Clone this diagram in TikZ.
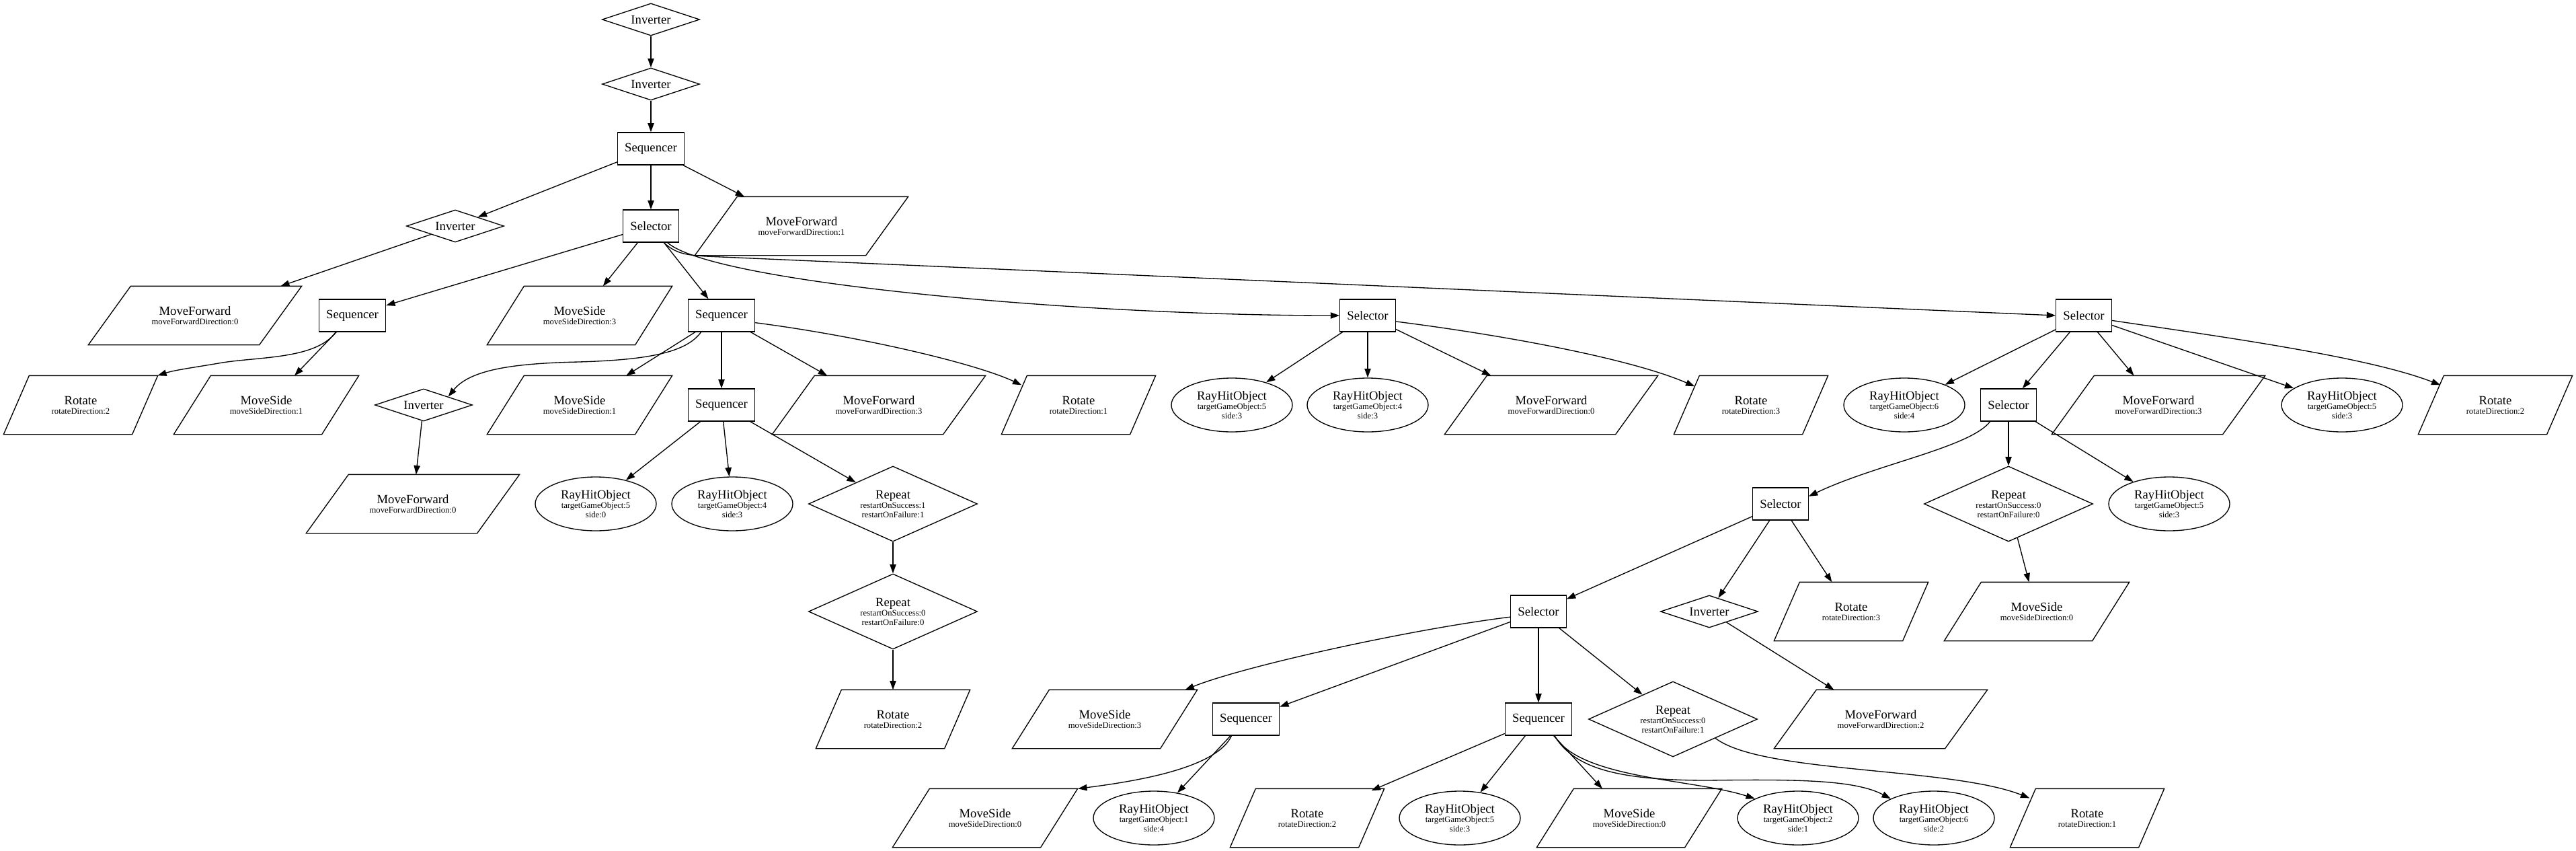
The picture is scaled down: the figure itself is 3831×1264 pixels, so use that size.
\documentclass[tikz,border=0pt]{standalone}
\usepackage{fontspec}
\setmainfont{Liberation Serif}
\usetikzlibrary{shapes.geometric,arrows.meta}
\newcommand\twol[2]{#1\\{\fontsize{9.5}{10.5}\selectfont #2}}
\newcommand\threel[3]{#1\\{\fontsize{9.5}{10.5}\selectfont #2}\\{\fontsize{9.5}{10.5}\selectfont #3}}
\begin{document}
\begin{tikzpicture}[x=0.75pt,y=-0.75pt,
  base/.style={line width=1pt, font=\fontsize{14}{10.5}\selectfont, align=center, inner sep=0pt},
  boxnode/.style={base, draw, rectangle, minimum height=36pt, inner xsep=8pt},
  invnode/.style={base, draw, diamond, aspect=3, minimum width=108.75pt, minimum height=36pt},
  repnode/.style={base, draw, diamond, aspect=2.2, minimum width=188.25pt, minimum height=84pt},
  raynode/.style={base, draw, ellipse, minimum width=135pt, minimum height=60pt},
  paranode/.style={base, rectangle, draw=none, minimum height=64.5pt},
  mfnode/.style={paranode, minimum width=189.75pt},
  msnode/.style={paranode, minimum width=164.25pt},
  rotnode/.style={paranode, minimum width=142.5pt},
  pline/.style={line width=1pt, line join=miter},
  edge/.style={-{Triangle[length=10pt,width=7pt]}, line width=1pt}]
\useasboundingbox (0,0) rectangle (3831,1264);

% ---- nodes ----
\node[invnode] (i1) at (968,29) {Inverter};
\node[invnode] (i2) at (968,125) {Inverter};
\node[boxnode] (s1) at (968,221) {Sequencer};
\node[invnode] (iL) at (677,336) {Inverter};
\node[boxnode] (sel1) at (968,336) {Selector};
\node[mfnode] (mf1) at (1192,336) {\twol{MoveForward}{moveForwardDirection:1}};

\node[mfnode] (mf0) at (290,469) {\twol{MoveForward}{moveForwardDirection:0}};
\node[boxnode] (seqA) at (524,469) {Sequencer};
\node[msnode] (ms3) at (862,469) {\twol{MoveSide}{moveSideDirection:3}};
\node[boxnode] (seqB) at (1073,469) {Sequencer};
\node[boxnode] (selC) at (2034,469) {Selector};
\node[boxnode] (selD) at (3099,469) {Selector};

\node[rotnode] (rot2) at (120,602) {\twol{Rotate}{rotateDirection:2}};
\node[msnode] (ms1a) at (396,602) {\twol{MoveSide}{moveSideDirection:1}};
\node[invnode] (invB) at (630,602) {Inverter};
\node[msnode] (ms1b) at (862,602) {\twol{MoveSide}{moveSideDirection:1}};
\node[boxnode] (seqB2) at (1073,602) {Sequencer};
\node[mfnode] (mf3) at (1307,602) {\twol{MoveForward}{moveForwardDirection:3}};
\node[rotnode] (rot1) at (1604,602) {\twol{Rotate}{rotateDirection:1}};
\node[raynode] (rh53a) at (1832,602) {\threel{RayHitObject}{targetGameObject:5}{side:3}};
\node[raynode] (rh43a) at (2034,602) {\threel{RayHitObject}{targetGameObject:4}{side:3}};
\node[mfnode] (mf0c) at (2307,602) {\twol{MoveForward}{moveForwardDirection:0}};
\node[rotnode] (rot3) at (2604,602) {\twol{Rotate}{rotateDirection:3}};
\node[raynode] (rh64) at (2832,602) {\threel{RayHitObject}{targetGameObject:6}{side:4}};
\node[boxnode] (selE) at (2987,602) {Selector};
\node[mfnode] (mf3b) at (3210,602) {\twol{MoveForward}{moveForwardDirection:3}};
\node[raynode] (rh53b) at (3483,602) {\threel{RayHitObject}{targetGameObject:5}{side:3}};
\node[rotnode] (rot2c) at (3711,602) {\twol{Rotate}{rotateDirection:2}};

\node[mfnode] (mf0b) at (614,749) {\twol{MoveForward}{moveForwardDirection:0}};
\node[raynode] (rh50) at (886,749) {\threel{RayHitObject}{targetGameObject:5}{side:0}};
\node[raynode] (rh43) at (1089,749) {\threel{RayHitObject}{targetGameObject:4}{side:3}};
\node[repnode] (rep11) at (1328,749) {\threel{Repeat}{restartOnSuccess:1}{restartOnFailure:1}};
\node[boxnode] (selF) at (2648,749) {Selector};
\node[repnode] (rep00b) at (2987,749) {\threel{Repeat}{restartOnSuccess:0}{restartOnFailure:0}};
\node[raynode] (rh53c) at (3226,749) {\threel{RayHitObject}{targetGameObject:5}{side:3}};

\node[repnode] (rep00) at (1328,909) {\threel{Repeat}{restartOnSuccess:0}{restartOnFailure:0}};
\node[boxnode] (selG) at (2288,909) {Selector};
\node[invnode] (invF) at (2542,909) {Inverter};
\node[rotnode] (rot3b) at (2753,909) {\twol{Rotate}{rotateDirection:3}};
\node[msnode] (ms0) at (3029,909) {\twol{MoveSide}{moveSideDirection:0}};

\node[rotnode] (rot2b) at (1328,1069) {\twol{Rotate}{rotateDirection:2}};
\node[msnode] (ms3b) at (1643,1069) {\twol{MoveSide}{moveSideDirection:3}};
\node[boxnode] (seqG1) at (1853,1069) {Sequencer};
\node[boxnode] (seqG2) at (2288,1069) {Sequencer};
\node[repnode] (rep01) at (2488,1069) {\threel{Repeat}{restartOnSuccess:0}{restartOnFailure:1}};
\node[mfnode] (mf2) at (2797,1069) {\twol{MoveForward}{moveForwardDirection:2}};

\node[msnode] (ms0b) at (1465,1216) {\twol{MoveSide}{moveSideDirection:0}};
\node[raynode] (rh14) at (1716,1216) {\threel{RayHitObject}{targetGameObject:1}{side:4}};
\node[rotnode] (rot2d) at (1944,1216) {\twol{Rotate}{rotateDirection:2}};
\node[raynode] (rh53d) at (2171,1216) {\threel{RayHitObject}{targetGameObject:5}{side:3}};
\node[msnode] (ms0c) at (2423,1216) {\twol{MoveSide}{moveSideDirection:0}};
\node[raynode] (rh21) at (2674,1216) {\threel{RayHitObject}{targetGameObject:2}{side:1}};
\node[raynode] (rh62) at (2876,1216) {\threel{RayHitObject}{targetGameObject:6}{side:2}};
\node[rotnode] (rot1b) at (3104,1216) {\twol{Rotate}{rotateDirection:1}};

% ---- parallelogram outlines ----
\foreach \n in {mf1,mf0,mf3,mf0c,mf3b,mf0b,mf2}
  \draw[pline] ([xshift=-23.625pt]\n.south west) -- ([xshift=-23.625pt]\n.south east) -- ([xshift=23.625pt]\n.north east) -- ([xshift=23.625pt]\n.north west) -- cycle;
\foreach \n in {ms3,ms1a,ms1b,ms0,ms3b,ms0b,ms0c}
  \draw[pline] ([xshift=-20.625pt]\n.south west) -- ([xshift=-20.625pt]\n.south east) -- ([xshift=20.625pt]\n.north east) -- ([xshift=20.625pt]\n.north west) -- cycle;
\foreach \n in {rot2,rot1,rot3,rot2c,rot3b,rot2b,rot2d,rot1b}
  \draw[pline] ([xshift=-14.25pt]\n.south west) -- ([xshift=-14.25pt]\n.south east) -- ([xshift=14.25pt]\n.north east) -- ([xshift=14.25pt]\n.north west) -- cycle;

% ---- edges ----
\draw[edge] (i1) -- (i2);
\draw[edge] (i2) -- (s1);
\draw[edge] (s1) -- (iL);
\draw[edge] (s1) -- (sel1);
\draw[edge] (s1) -- (mf1);
\draw[edge] (iL) -- (mf0);
\draw[edge] (sel1) -- (seqA);
\draw[edge] (sel1) -- (ms3);
\draw[edge] (sel1) -- (seqB);
\draw[edge] (sel1.-45) .. controls (1060,420) and (1600,469) .. (selC.west);
\draw[edge] (sel1.-52) .. controls (1005,377) and (1020,379) .. (1050,381) .. controls (1600,405) and (2800,458) .. (selD.west);

\draw[edge] (seqA.-135) .. controls (470,535) and (380,530) .. (325,540) .. controls (290,546) and (260,550) .. ([xshift=14pt]rot2.north east);
\draw[edge] (seqA) -- (ms1a);

\draw[edge] (seqB.-141) .. controls (1020,525) and (960,535) .. (861,538) .. controls (770,540) and (700,548) .. (invB.north east);
\draw[edge] (seqB) -- (ms1b);
\draw[edge] (seqB) -- (seqB2);
\draw[edge] (seqB) -- (mf3);
\draw[edge] (seqB.-12) .. controls (1280,500) and (1450,540) .. ([xshift=8.25pt,yshift=-10.5pt]rot1.north west);

\draw[edge] (invB) -- (mf0b);
\draw[edge] (seqB2) -- (rh50);
\draw[edge] (seqB2) -- (rh43);
\draw[edge] (seqB2) -- (rep11);
\draw[edge] (rep11) -- (rep00);
\draw[edge] (rep00) -- (rot2b);

\draw[edge] (selC) -- (rh53a);
\draw[edge] (selC) -- (rh43a);
\draw[edge] (selC) -- (mf0c);
\draw[edge] (selC.-12) .. controls (2250,500) and (2430,535) .. ([xshift=9pt,yshift=-12pt]rot3.north west);

\draw[edge] (selD) -- (rh64);
\draw[edge] (selD) -- (selE);
\draw[edge] (selD) -- (mf3b);
\draw[edge] (selD) -- (rh53b);
\draw[edge] (selD.-10) .. controls (3300,500) and (3520,530) .. ([xshift=10.5pt,yshift=-10.5pt]rot2c.north west);

\draw[edge] (selE.-138) .. controls (2930,665) and (2790,690) .. (selF.15);
\draw[edge] (selE) -- (rep00b);
\draw[edge] (selE) -- (rh53c);
\draw[edge] (rep00b) -- (ms0);

\draw[edge] (selF) -- (selG);
\draw[edge] (selF) -- (invF);
\draw[edge] (selF) -- (rot3b);
\draw[edge] (invF) -- (mf2);

\draw[edge] (selG.191) .. controls (2100,935) and (1850,990) .. ([xshift=7pt]ms3b.north east);
\draw[edge] (selG) -- (seqG1);
\draw[edge] (selG) -- (seqG2);
\draw[edge] (selG) -- (rep01);

\draw[edge] (seqG1.-131) .. controls (1810,1140) and (1700,1160) .. ([xshift=21pt]ms0b.north east);
\draw[edge] (seqG1) -- (rh14);

\draw[edge] (seqG2) -- (rot2d);
\draw[edge] (seqG2) -- (rh53d);
\draw[edge] (seqG2) -- (ms0c);
\draw[edge] (seqG2.-46) .. controls (2350,1158) and (2520,1158) .. (rh21.north west);
\draw[edge] (seqG2.-46) .. controls (2340,1140) and (2400,1160) .. (2540,1160) .. controls (2680,1158) and (2760,1160) .. (rh62.north west);
\draw[edge] (rep01.south east) .. controls (2620,1150) and (2900,1140) .. ([xshift=7.5pt,yshift=-10.5pt]rot1b.north west);
\end{tikzpicture}
\end{document}
